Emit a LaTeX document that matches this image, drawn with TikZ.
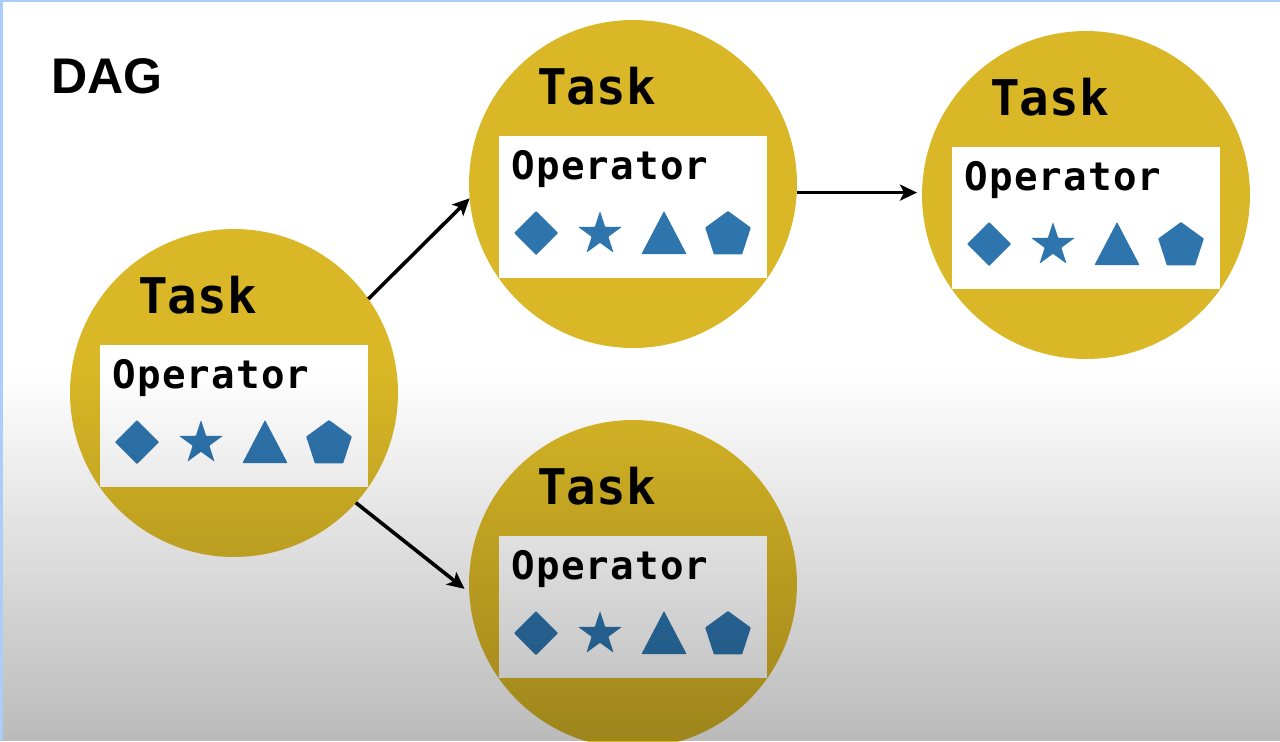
\documentclass[tikz,border=0pt]{standalone}
\usepackage{fontspec}
\setmainfont{Liberation Sans}
\newfontfamily\monofam{DejaVu Sans Mono}
\newfontfamily\monowide{DejaVu Sans Mono}[LetterSpace=3]
\usetikzlibrary{arrows.meta,fadings}
\definecolor{gold}{RGB}{217,183,38}
\definecolor{shapeblue}{RGB}{46,117,174}
\definecolor{edgeblue}{RGB}{170,205,250}
\tikzfading[name=vig, top color=transparent!100, bottom color=transparent!73, middle color=transparent!100]
\tikzset{
  taskc/.style={circle, fill=gold, minimum size=6.56cm, inner sep=0pt, outer sep=0pt},
  opbox/.style={rectangle, fill=white, minimum width=5.36cm, minimum height=2.84cm, inner sep=0pt, outer sep=0pt},
  tasklbl/.style={anchor=base, inner sep=0pt, font=\monofam\bfseries\fontsize{28}{30}\selectfont},
  oplbl/.style={anchor=base, inner sep=0pt, font=\monowide\bfseries\fontsize{22.3}{26}\selectfont},
  arr/.style={line width=0.072cm, -{Stealth[length=0.34cm, width=0.32cm, inset=0.08cm]}},
  shp/.style={fill=shapeblue, rounded corners=0.4pt}
}
\newcommand{\opshapes}[2]{%
  \begin{scope}[shift={(#1,#2)}]
    \fill[shp] (-97-22,0) -- (-97,-22) -- (-97+22,0) -- (-97,22) -- cycle;
    \fill[shp] ([shift={(-33,1)}]-90:23) -- ([shift={(-33,1)}]-54:8.8) -- ([shift={(-33,1)}]-18:23) -- ([shift={(-33,1)}]18:8.8) -- ([shift={(-33,1)}]54:23) -- ([shift={(-33,1)}]90:8.8) -- ([shift={(-33,1)}]126:23) -- ([shift={(-33,1)}]162:8.8) -- ([shift={(-33,1)}]198:23) -- ([shift={(-33,1)}]234:8.8) -- cycle;
    \fill[shp] (31-22.5,21) -- (31,-22) -- (31+22.5,21) -- cycle;
    \fill[shp] ([shift={(95,2)}]-90:24) -- ([shift={(95,2)}]-18:24) -- ([shift={(95,2)}]54:24) -- ([shift={(95,2)}]126:24) -- ([shift={(95,2)}]198:24) -- cycle;
  \end{scope}}
\newcommand{\tasknode}[3]{% name, cx, cy
  \node[taskc] (#1) at (#2,#3) {};
  \node[opbox] (#1box) at (#2,#3+23) {};
  \node[tasklbl] (#1task) at (#2-36.5,#3-80) {Task};
  \node[oplbl] (#1op) at (#2-23,#3-5) {Operator};
  \opshapes{#2}{#3+49}}
\begin{document}
\begin{tikzpicture}[x=0.02cm,y=-0.02cm]
\useasboundingbox (0,0) rectangle (1280,741);
\fill[white] (0,0) rectangle (1280,741);
\node[anchor=base west, inner sep=0pt, font=\bfseries\fontsize{28.5}{30}\selectfont] (dag) at (51,93) {DAG};
\tasknode{c1}{234}{393}
\tasknode{c2}{633}{184}
\tasknode{c3}{1086}{195}
\tasknode{c4}{633}{584}
\coordinate (a2s) at (c2.-3.5);
\draw[arr] (c1.35) -- (c2.185);
\draw[arr, shorten >=0.1cm] (a2s) -- (a2s -| c3.west);
\draw[arr, shorten >=0.12cm] (c1.-42) -- (c4.183);
\fill[black, path fading=vig] (0,0) rectangle (1280,741);
\fill[edgeblue] (0,0) rectangle (3,741);
\fill[edgeblue] (0,0) rectangle (1280,2);
\end{tikzpicture}
\end{document}
